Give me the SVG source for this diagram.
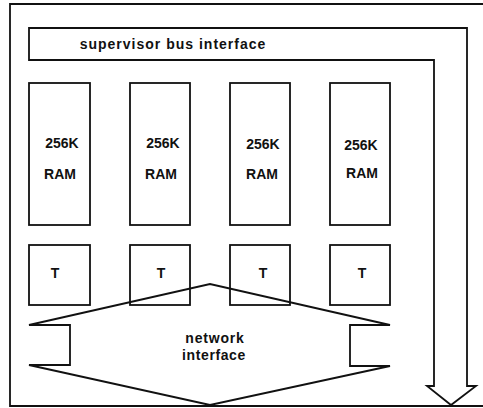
<svg xmlns="http://www.w3.org/2000/svg" width="483" height="408" viewBox="0 0 483 408">
<style>
.ln{fill:none;stroke:#111;stroke-width:1.8;stroke-linejoin:miter}
.bx{fill:#fff;stroke:#111;stroke-width:1.8}
.tx{font-family:"Liberation Sans",Arial,sans-serif;font-weight:bold;font-size:14px;fill:#111;text-anchor:middle}
</style>
<rect width="483" height="408" fill="#fff"/>
<path id="frame" class="ln" d="M483,4 H10 V406 H483"/>
<g id="bus">
<polygon class="ln" points="29,28 467,28 467,386 476,386 451,405 427,386 434,386 434,60 29,60"/>
<text class="tx" x="173" y="49" style="letter-spacing:1px">supervisor bus interface</text>
</g>
<g id="ram1"><rect class="bx" x="29" y="83" width="61" height="142"/><text class="tx" x="62" y="148">256K</text><text class="tx" x="60" y="179">RAM</text></g>
<g id="ram2"><rect class="bx" x="130" y="83" width="60" height="142"/><text class="tx" x="163" y="148">256K</text><text class="tx" x="161" y="179">RAM</text></g>
<g id="ram3"><rect class="bx" x="230" y="83" width="60" height="142"/><text class="tx" x="263" y="149">256K</text><text class="tx" x="262" y="179">RAM</text></g>
<g id="ram4"><rect class="bx" x="330" y="83" width="60" height="142"/><text class="tx" x="361" y="150">256K</text><text class="tx" x="362" y="178">RAM</text></g>
<g id="t1"><rect class="bx" x="29" y="245" width="61" height="60"/><text class="tx" x="55" y="278">T</text></g>
<g id="t2"><rect class="bx" x="130" y="245" width="60" height="60"/><text class="tx" x="161" y="278">T</text></g>
<g id="t3"><rect class="bx" x="230" y="245" width="60" height="60"/><text class="tx" x="263" y="278">T</text></g>
<g id="t4"><rect class="bx" x="330" y="245" width="60" height="60"/><text class="tx" x="362" y="278">T</text></g>
<g id="network">
<polygon class="ln" points="29,325 210,284 390,325 350,325 350,366 390,366 210,405 29,365 70,365 70,325"/>
<text class="tx" x="215" y="343" style="letter-spacing:0.8px">network</text>
<text class="tx" x="214" y="360" style="letter-spacing:0.6px">interface</text>
</g>
<g id="connectors"></g>
</svg>
